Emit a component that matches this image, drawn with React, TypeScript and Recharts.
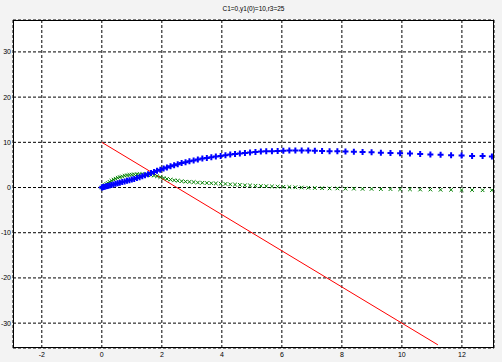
import { CartesianGrid, ComposedChart, Line, Scatter, XAxis, YAxis } from "recharts"

// time steps of the solver (shared by both solution curves)
const tValues = [
  0, 0.03, 0.06, 0.1, 0.15, 0.2, 0.26, 0.32, 0.39, 0.46, 0.53, 0.6, 0.68, 0.76, 0.84, 0.92, 1.0, 1.08, 1.17, 1.26,
  1.35, 1.44, 1.54, 1.64, 1.74, 1.84, 1.95, 2.06, 2.17, 2.29, 2.41, 2.53, 2.66, 2.79, 2.92, 3.06, 3.2, 3.35, 3.5,
  3.65, 3.8, 3.96, 4.12, 4.28, 4.44, 4.6, 4.77, 4.94, 5.12, 5.3, 5.48, 5.67, 5.86, 6.05, 6.25, 6.45, 6.66, 6.88, 7.1,
  7.34, 7.59, 7.85, 8.12, 8.4, 8.69, 8.99, 9.3, 9.62, 9.94, 10.27, 10.61, 10.95, 11.29, 11.64, 11.99, 12.34, 12.69,
  13.0,
]

const blueValues = [
  0, 0.05, 0.1, 0.18, 0.27, 0.36, 0.46, 0.57, 0.69, 0.82, 0.95, 1.07, 1.22, 1.36, 1.5, 1.62, 1.75, 1.9, 2.1, 2.3,
  2.5, 2.7, 2.95, 3.2, 3.45, 3.7, 3.95, 4.2, 4.45, 4.7, 4.95, 5.15, 5.4, 5.6, 5.8, 6.0, 6.2, 6.4, 6.55, 6.7, 6.85,
  7.0, 7.15, 7.3, 7.4, 7.55, 7.65, 7.75, 7.85, 7.95, 8.0, 8.05, 8.1, 8.15, 8.2, 8.2, 8.2, 8.2, 8.15, 8.1, 8.05, 8.0,
  7.95, 7.9, 7.85, 7.8, 7.7, 7.65, 7.6, 7.5, 7.4, 7.3, 7.25, 7.15, 7.1, 7.0, 6.95, 6.85,
]

const greenValues = [
  0, 0.2, 0.35, 0.55, 0.8, 1.0, 1.25, 1.5, 1.75, 1.95, 2.15, 2.3, 2.45, 2.6, 2.7, 2.8, 2.85, 2.9, 2.95, 2.95, 2.95,
  2.9, 2.85, 2.75, 2.65, 2.5, 2.3, 2.1, 1.9, 1.75, 1.6, 1.5, 1.4, 1.3, 1.25, 1.2, 1.1, 1.05, 1.0, 0.95, 0.9, 0.85,
  0.8, 0.7, 0.65, 0.6, 0.5, 0.45, 0.4, 0.35, 0.3, 0.25, 0.2, 0.15, 0.1, 0.05, 0.0, -0.05, -0.1, -0.15, -0.2, -0.2,
  -0.25, -0.25, -0.3, -0.3, -0.35, -0.35, -0.4, -0.4, -0.45, -0.45, -0.5, -0.5, -0.55, -0.55, -0.6, -0.6,
]

// straight red line
const redX = [0, 11.2]
const redY = [10, -34.8]

const xTicks = [-2, 0, 2, 4, 6, 8, 10, 12]
const yTicks = [-30, -20, -10, 0, 10, 20, 30]

const blueData = tValues.map((x, i) => ({ x, y: blueValues[i] }))
const greenData = tValues.map((x, i) => ({ x, y: greenValues[i] }))
const redData = redX.map((x, i) => ({ x, y: redY[i] }))

const PlusMark = (props: any) => {
  const { cx, cy } = props
  if (cx == null || cy == null) return null
  return (
    <path
      d={`M${cx - 3},${cy}H${cx + 3}M${cx},${cy - 3}V${cy + 3}`}
      stroke="#0000ff"
      strokeWidth={2}
      fill="none"
    />
  )
}

const CrossMark = (props: any) => {
  const { cx, cy } = props
  if (cx == null || cy == null) return null
  return (
    <path
      d={`M${cx - 1.8},${cy - 1.8}L${cx + 1.8},${cy + 1.8}M${cx - 1.8},${cy + 1.8}L${cx + 1.8},${cy - 1.8}`}
      stroke="#008000"
      strokeWidth={1}
      fill="none"
    />
  )
}

const tickStyle = { fontSize: 7, fill: "#000", fontFamily: "Liberation Sans, Arial, sans-serif" }

export default function App() {
  return (
    <div style={{ position: "fixed", left: 0, top: 0, width: 502, height: 362, background: "#f3f3f3" }}>
      <div
        style={{
          position: "absolute",
          left: 13,
          width: 481,
          top: 5,
          textAlign: "center",
          fontSize: 6.5,
          fontFamily: "Liberation Sans, Arial, sans-serif",
        }}
      >
        C1=0,y1(0)=10,r3=25
      </div>
      <ComposedChart width={502} height={362} margin={{ top: 20, right: 8, bottom: 0, left: 0 }}>
        <CartesianGrid stroke="#000" strokeDasharray="3 2" fill="#fff" fillOpacity={1} />
        <XAxis
          dataKey="x"
          type="number"
          domain={[-2.96, 13.07]}
          ticks={xTicks}
          allowDataOverflow
          height={14}
          tickSize={0}
          tickMargin={4}
          tick={tickStyle}
          axisLine={false}
        />
        <YAxis
          type="number"
          domain={[-35.5, 37.06]}
          ticks={yTicks}
          allowDataOverflow
          width={13}
          tickSize={0}
          tickMargin={2}
          tick={tickStyle}
          axisLine={false}
        />
        <Line data={redData} dataKey="y" stroke="#ff0000" strokeWidth={1} dot={false} isAnimationActive={false} />
        <Scatter data={greenData} dataKey="y" shape={CrossMark} isAnimationActive={false} />
        <Scatter data={blueData} dataKey="y" shape={PlusMark} isAnimationActive={false} />
      </ComposedChart>
      <div
        style={{
          position: "absolute",
          left: 13,
          top: 20,
          width: 481,
          height: 328,
          boxSizing: "border-box",
          border: "1px solid #000",
          pointerEvents: "none",
        }}
      />
    </div>
  )
}
